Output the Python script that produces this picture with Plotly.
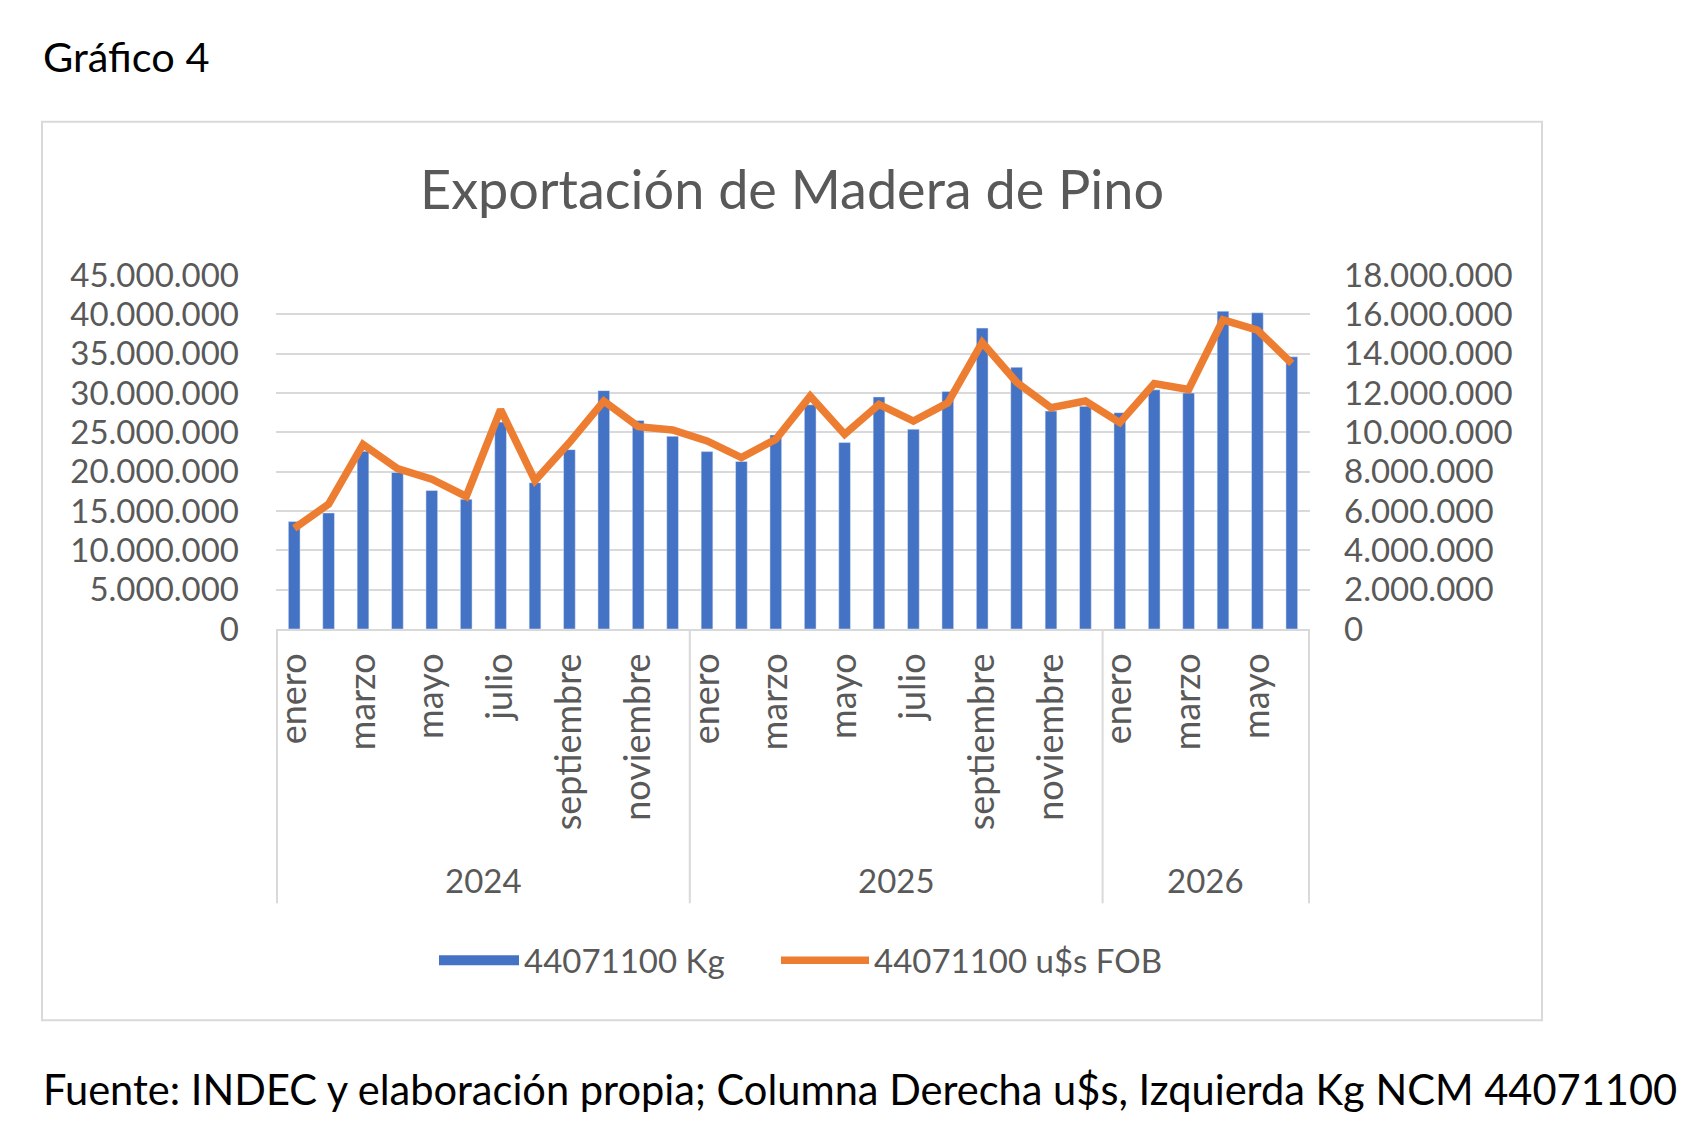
import plotly.graph_objects as go

# datos
years = ["2024"] * 12 + ["2025"] * 12 + ["2026"] * 6
month_names = ["enero", "febrero", "marzo", "abril", "mayo", "junio", "julio",
               "agosto", "septiembre", "octubre", "noviembre", "diciembre"]
months = month_names * 2 + month_names[:6]

kg = [13.65, 14.75, 22.6, 19.9, 17.6, 16.5, 26.3, 18.6, 22.8, 30.3, 26.5, 24.5,
      22.55, 21.3, 24.66, 28.5, 23.7, 29.5, 25.4, 30.2, 38.25, 33.27, 27.7, 28.3,
      27.5, 30.4, 30.0, 40.4, 40.2, 34.6]
fob = [5.12, 6.35, 9.39, 8.16, 7.62, 6.74, 11.16, 7.54, 9.48, 11.59, 10.29, 10.12,
       9.56, 8.72, 9.65, 11.84, 9.9, 11.42, 10.57, 11.5, 14.57, 12.55, 11.25, 11.59,
       10.49, 12.48, 12.18, 15.72, 15.2, 13.5]
kg = [v * 1e6 for v in kg]
fob = [v * 1e6 for v in fob]

cats = [f"{m} {y}" for m, y in zip(months, years)]

# la pagina tiene 8px de margen en el body
OFF = 8
W, H = 1696 - 2 * OFF, 1141 - 2 * OFF
PL, PR, PT, PB = 276 - OFF, 1310 - OFF, 275.3 - OFF, 629.5 - OFF   # area del grafico


def xp(px):
    return (px - OFF - PL) / (PR - PL)


def yp(py):
    return (PB - (py - OFF)) / (PB - PT)


GRIS = "#595959"
LINEA = "#d9d9d9"
AZUL = "#4472C4"
NARANJA = "#ED7D31"
FONT = "Lato"

fig = go.Figure()
fig.add_trace(go.Bar(x=cats, y=kg, name="44071100 Kg", marker_color=AZUL, showlegend=False))
# simbolo ancho para la leyenda de las barras
fig.add_trace(go.Scatter(x=[None], y=[None], mode="lines", name="44071100 Kg",
                         line=dict(color=AZUL, width=20), legend="legend"))
fig.add_trace(go.Scatter(x=cats, y=fob, name="44071100 u$s FOB", yaxis="y2",
                         mode="lines", line=dict(color=NARANJA, width=7.5), legend="legend2"))

# separadores y etiquetas de año
shapes = []
annots = []
start = 0
groups = []
for i in range(1, len(years) + 1):
    if i == len(years) or years[i] != years[start]:
        groups.append((years[start], start, i - 1))
        start = i
for yr, a, b in groups:
    annots.append(dict(x=(a + b) / 2, xref="x", y=yp(881), yref="paper", yanchor="middle",
                       text=yr, showarrow=False, font=dict(family=FONT, size=33, color=GRIS)))
    shapes.append(dict(type="line", xref="x", yref="paper", x0=a - 0.5, x1=a - 0.5,
                       y0=0, y1=yp(904), line=dict(color=LINEA, width=2)))
shapes.append(dict(type="line", xref="x", yref="paper", x0=len(cats) - 0.5, x1=len(cats) - 0.5,
                   y0=0, y1=yp(904), line=dict(color=LINEA, width=2)))

# marco
shapes.append(dict(type="rect", xref="paper", yref="paper", x0=xp(42), x1=xp(1542),
                   y0=yp(1021), y1=yp(122), line=dict(color=LINEA, width=2), layer="below"))

annots.append(dict(x=xp(792), y=yp(189), xref="paper", yref="paper", yanchor="middle",
                   text="Exportación de Madera de Pino", showarrow=False,
                   font=dict(family=FONT, size=54, color=GRIS)))
annots.append(dict(x=xp(41), y=yp(56), xref="paper", yref="paper", xanchor="left",
                   yanchor="middle", text="Gráfico 4", showarrow=False,
                   font=dict(family=FONT, size=41.5, color="black")))
annots.append(dict(x=xp(41), y=yp(1090), xref="paper", yref="paper", xanchor="left",
                   yanchor="middle",
                   text="Fuente: INDEC y elaboración propia; Columna Derecha u$s, Izquierda Kg NCM 44071100",
                   showarrow=False, font=dict(family=FONT, size=41.6, color="black")))

leg = dict(orientation="h", xanchor="left", y=yp(961), yanchor="middle",
           font=dict(size=33, color=GRIS), bgcolor="rgba(0,0,0,0)")

fig.update_layout(
    width=W, height=H,
    margin=dict(l=PL, r=W - PR, t=PT, b=H - PB, pad=0),
    paper_bgcolor="white", plot_bgcolor="white",
    separators=",.",
    bargap=0.66,
    font=dict(family=FONT, color=GRIS),
    xaxis=dict(type="category", tickvals=cats[::2], ticktext=months[::2], tickangle=-90,
               tickfont=dict(size=36, color=GRIS), ticklabelstandoff=8,
               showline=True, linecolor=LINEA, linewidth=2, showgrid=False, automargin=False),
    yaxis=dict(range=[0, 45e6], dtick=5e6, tickformat=",d", showgrid=True,
               gridcolor=LINEA, gridwidth=2, zeroline=False, showline=False,
               tickfont=dict(size=33, color=GRIS), ticklabelstandoff=36, automargin=False),
    yaxis2=dict(range=[0, 18e6], dtick=2e6, tickformat=",d", overlaying="y", side="right",
                showgrid=False, zeroline=False, showline=False,
                tickfont=dict(size=33, color=GRIS), ticklabelstandoff=33, automargin=False),
    legend=dict(leg, x=xp(434), itemwidth=80),
    legend2=dict(leg, x=xp(776), itemwidth=88),
    shapes=shapes,
    annotations=annots,
)

fig.write_html("out.html")
